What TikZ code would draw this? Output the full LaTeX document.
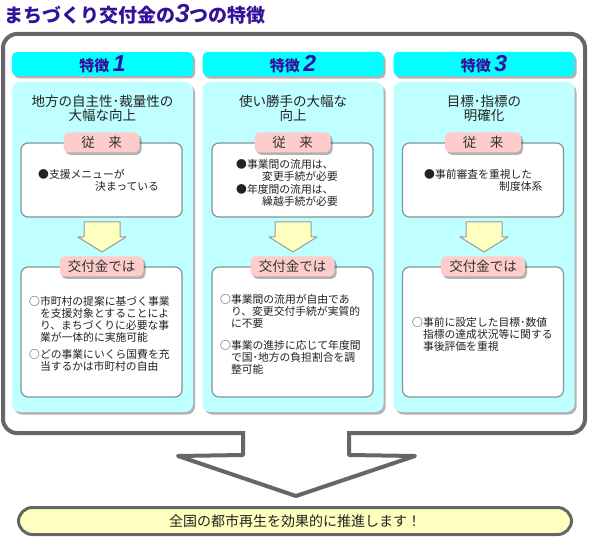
\documentclass[tikz,border=0pt]{standalone}
\usepackage{fontspec}
\setmainfont{Noto Sans CJK JP}
\newfontfamily\numfont{Liberation Sans}
\usetikzlibrary{positioning,shadows}
\definecolor{titleblue}{RGB}{51,17,153}
\definecolor{headcyan}{RGB}{0,255,255}
\definecolor{panelcyan}{RGB}{192,255,255}
\definecolor{tagpink}{RGB}{255,204,204}
\definecolor{boxline}{RGB}{128,150,150}
\definecolor{arrowyellow}{RGB}{255,255,192}
\definecolor{framegray}{RGB}{102,102,102}
\definecolor{inktext}{RGB}{34,34,34}

\begin{document}
\begin{tikzpicture}[x=1pt, y=-1pt, text=inktext,
  softshadow/.style={drop shadow={shadow xshift=2pt, shadow yshift=-2.5pt, fill=black, opacity=0.3}},
  frame/.style={draw=framegray, line width=4pt},
  head/.style={rounded corners=5pt, fill=headcyan, minimum width=181pt, minimum height=22pt, softshadow,
    text=titleblue, font=\fontsize{15}{15}\selectfont\bfseries},
  panel/.style={rounded corners=8pt, fill=panelcyan, minimum width=181pt, minimum height=330pt, softshadow},
  ptitle/.style={align=center, font=\fontsize{13.5}{14}\selectfont},
  box/.style={rounded corners=7pt, fill=white, draw=boxline, line width=1.2pt, minimum width=161pt},
  tag/.style={rounded corners=5pt, fill=tagpink, minimum width=76pt, minimum height=20pt, softshadow,
    text=black!80, font=\fontsize{13.5}{14}\selectfont},
  btext/.style={anchor=north west, inner sep=0pt, align=left, font=\fontsize{10.8}{12}\selectfont},
  goal/.style={rounded corners=14pt, fill=arrowyellow, draw=framegray, line width=3pt,
    minimum width=553pt, minimum height=27pt, font=\fontsize{14}{14}\selectfont},
  yarrow/.pic={\draw[fill=arrowyellow, draw=gray!80, line width=1pt, line join=round]
    (-18,0) -- (18,0) -- (18,15) -- (24,15) -- (0,30) -- (-24,15) -- (-18,15) -- cycle;}]

  \useasboundingbox (0,0) rectangle (589,537);

  % title
  \node[anchor=west, inner sep=0pt, text=titleblue, font=\fontsize{19}{19}\selectfont\bfseries] (title) at (4,14)
    {まちづくり交付金の{\numfont\itshape\fontsize{26}{26}\selectfont 3}つの特徴};

  % outer frame with the big arrow
  \draw[frame, rounded corners=14pt] (3,34) rectangle (585,433);
  \fill[white] (245,428) rectangle (347,438);
  \draw[frame, line join=round] (243,431) -- (243,455) -- (178,456) -- (296,496) -- (415,456) -- (349,455) -- (349,431);

  % three columns
  \node[head] (h1) at (102.5,64) {特徴 {\numfont\itshape\fontsize{23}{23}\selectfont 1}};
  \node[head] (h2) at (293,64) {特徴 {\numfont\itshape\fontsize{23}{23}\selectfont 2}};
  \node[head] (h3) at (484,64) {特徴 {\numfont\itshape\fontsize{23}{23}\selectfont 3}};

  \node[panel] (p1) at (102.5,247) {};
  \node[panel] (p2) at (293,247) {};
  \node[panel] (p3) at (484,247) {};

  \node[ptitle] (t1) at (102.5,108) {地方の自主性･裁量性の\\大幅な向上};
  \node[ptitle] (t2) at (293,108) {使い勝手の大幅な\\向上};
  \node[ptitle] (t3) at (484,108) {目標･指標の\\明確化};

  \node[box, minimum height=74pt] (old1) at (101.5,180) {};
  \node[box, minimum height=74pt] (old2) at (292.5,180) {};
  \node[box, minimum height=74pt] (old3) at (483,180) {};
  \node[box, minimum height=130pt] (new1) at (101.5,332) {};
  \node[box, minimum height=130pt] (new2) at (292.5,332) {};
  \node[box, minimum height=130pt] (new3) at (483,332) {};

  \node[tag] (o1) at (old1.north) {従　来};
  \node[tag] (o2) at (old2.north) {従　来};
  \node[tag] (o3) at (old3.north) {従　来};
  \node[tag, minimum width=84pt] (k1) at (new1.north) {交付金では};
  \node[tag, minimum width=84pt] (k2) at (new2.north) {交付金では};
  \node[tag, minimum width=84pt] (k3) at (new3.north) {交付金では};

  \pic at (102,222) {yarrow};
  \pic at (293,222) {yarrow};
  \pic at (484,222) {yarrow};

  % box texts
  \node[btext] (ot1) at (38,169) {●支援メニューが\\\hspace*{57pt}決まっている};
  \node[btext] (ot2) at (236,159) {●事業間の流用は、\\\hspace*{26pt}変更手続が必要\\[1pt]
    ●年度間の流用は、\\\hspace*{26pt}繰越手続が必要};
  \node[btext] (ot3) at (424,169) {●事前審査を重視した\\\hspace*{75pt}制度体系};

  \node[btext] (nt1) at (29,296) {○市町村の提案に基づく事業\\\hspace*{1em}を支援対象とすることによ\\
    \hspace*{1em}り、まちづくりに必要な事\\\hspace*{1em}業が一体的に実施可能\\[5pt]
    ○どの事業にいくら国費を充\\\hspace*{1em}当するかは市町村の自由};
  \node[btext] (nt2) at (220,294) {○事業間の流用が自由であ\\\hspace*{1em}り、変更交付手続が実質的\\
    \hspace*{1em}に不要\\[10pt]
    ○事業の進捗に応じて年度間\\\hspace*{1em}で国･地方の負担割合を調\\\hspace*{1em}整可能};
  \node[btext] (nt3) at (412,317) {○事前に設定した目標･数値\\\hspace*{1em}指標の達成状況等に関する\\
    \hspace*{1em}事後評価を重視};

  % result
  \node[goal] (goal) at (295,521) {全国の都市再生を効果的に推進します！};

\end{tikzpicture}
\end{document}
